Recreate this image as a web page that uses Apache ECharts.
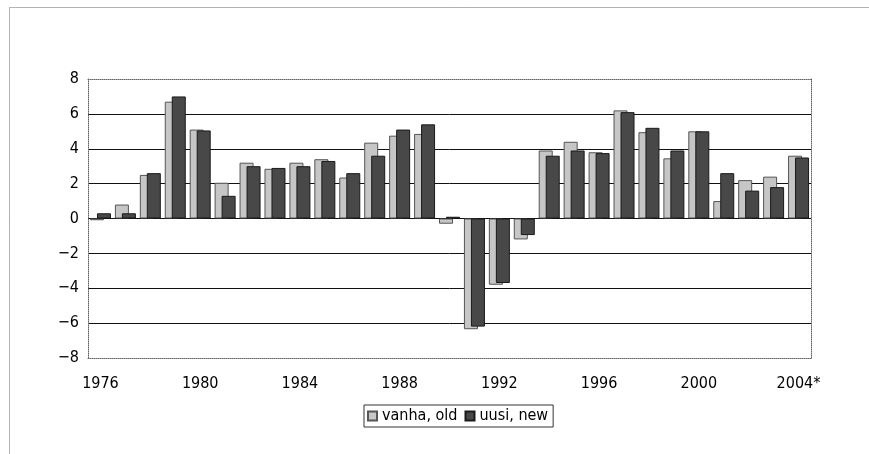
<!DOCTYPE html>
<html>
<head>
<meta charset="utf-8">
<script src="https://cdn.jsdelivr.net/npm/echarts@6/dist/echarts.min.js"></script>
<style>html,body{margin:0;padding:0;background:#fff}#c{width:869px;height:454px}</style>
</head>
<body>
<div id="c"></div>
<script>
var years = ['1976','1977','1978','1979','1980','1981','1982','1983','1984','1985','1986','1987','1988','1989','1990','1991','1992','1993','1994','1995','1996','1997','1998','1999','2000','2001','2002','2003','2004*'];
var vanhaOld = [-0.1,0.8,2.5,6.7,5.1,2.05,3.2,2.85,3.2,3.4,2.35,4.35,4.75,4.85,-0.3,-6.35,-3.8,-1.2,3.9,4.4,3.8,6.2,4.95,3.45,5.0,1.0,2.2,2.4,3.6];
var uusiNew = [0.3,0.3,2.6,7.0,5.05,1.3,3.0,2.9,3.0,3.3,2.6,3.6,5.1,5.4,0.1,-6.2,-3.7,-0.95,3.6,3.9,3.75,6.1,5.2,3.9,5.0,2.6,1.6,1.8,3.5];
var seriesNames = ['vanha, old','uusi, new'];
var yMin = -8, yMax = 8, yStep = 2;

var font = "'DejaVu Sans Condensed','Noto Sans',sans-serif";
var chart = echarts.init(document.getElementById('c'), null, {renderer:'canvas'});
var dotted = {color:'#666', width:1, type:[1,1]};
chart.setOption({
  animation:false,
  backgroundColor:'#fff',
  graphic:[{type:'rect', left:7, top:5, shape:{width:880, height:470}, style:{fill:'none', stroke:'#666', lineWidth:1, lineDash:[1,1]}, silent:true, z:-1}],
  grid:{left:88, top:79, right:58, bottom:96, show:false},
  legend:{
    data:seriesNames, left:364, top:405, itemWidth:9, itemHeight:9, itemGap:7,
    borderColor:'#333', borderWidth:1, padding:[3,5,3,3],
    textStyle:{fontFamily:font, fontSize:16, color:'#000'},
    icon:'rect'
  },
  xAxis:[{
    type:'category', data:years, position:'bottom',
    axisLine:{show:true, onZero:false, lineStyle:dotted},
    axisTick:{show:false},
    axisLabel:{interval:3, fontFamily:font, fontSize:16, color:'#000', margin:18},
    splitLine:{show:false}
  },{
    type:'category', data:years, position:'top',
    axisLine:{show:true, onZero:false, lineStyle:dotted},
    axisTick:{show:false}, axisLabel:{show:false}
  }],
  yAxis:[{
    type:'value', min:yMin, max:yMax, interval:yStep, position:'left',
    axisLine:{show:true, onZero:false, lineStyle:dotted},
    axisTick:{show:false},
    axisLabel:{fontFamily:font, fontSize:16, color:'#000', margin:9,
      formatter:function(v){return String(v).replace('-','\u2212');}},
    splitLine:{show:true, showMinLine:false, showMaxLine:false, lineStyle:{color:'#111', width:1}}
  },{
    type:'value', min:yMin, max:yMax, interval:yStep, position:'right',
    axisLine:{show:true, onZero:false, lineStyle:dotted},
    axisTick:{show:false}, axisLabel:{show:false}, splitLine:{show:false}
  }],
  series:[{
    name:seriesNames[0], type:'bar', data:vanhaOld, barWidth:14, barGap:'-50%',
    itemStyle:{color:'#c6c6c6', borderColor:'#555', borderWidth:1}
  },{
    name:seriesNames[1], type:'bar', data:uusiNew, barWidth:14, barGap:'-50%',
    itemStyle:{color:'#484848', borderColor:'#1a1a1a', borderWidth:1}
  }]
});
</script>
</body>
</html>
